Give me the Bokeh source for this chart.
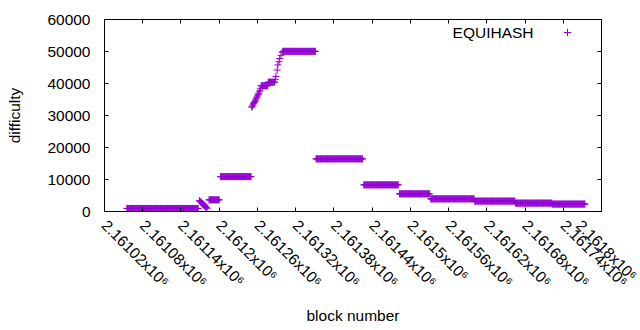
import math
from bokeh.plotting import figure
from bokeh.models import (FixedTicker, LinearAxis, Range1d, Legend, LegendItem,
                          Label, ColumnDataSource, CustomLabelingPolicy)
from bokeh.embed import file_html
from bokeh.resources import INLINE

# ---- data ----
# flat stretches: first block, last block, difficulty
seg_start = [2161055, 2161184, 2161202, 2161266, 2161277, 2161300, 2161352,
             2161427, 2161483, 2161532, 2161601, 2161665, 2161723]
seg_end = [2161167, 2161200, 2161250, 2161276, 2161287, 2161351, 2161425,
           2161481, 2161530, 2161600, 2161664, 2161722, 2161774]
seg_diff = [950, 3650, 10900, 39300, 40400, 50050, 16450,
            8330, 5520, 3950, 3250, 2620, 2320]

# individual blocks in the transitions
drop_blocks = [2161169, 2161170, 2161171, 2161172, 2161173, 2161174, 2161175,
               2161176, 2161177, 2161178, 2161179, 2161180, 2161181]
drop_diff = [3400, 3200, 3000, 2800, 2600, 2400, 2200, 2000, 1800, 1600, 1400,
             1200, 1000]
ramp_blocks = [2161251, 2161252, 2161253, 2161254, 2161255, 2161256, 2161257,
               2161258, 2161259, 2161260, 2161261, 2161262, 2161263, 2161264,
               2161265]
ramp_diff = [32600, 32900, 33300, 33700, 34100, 34400, 34800,
             35200, 35700, 36100, 36500, 36800, 37400, 37900,
             38500]
climb_blocks = [2161288, 2161289, 2161291, 2161292, 2161294, 2161295,
                2161297, 2161299]
climb_diff = [41200, 42200, 44200, 45800, 46800, 47800, 48800, 49800]

x_ticks = [2161020, 2161080, 2161140, 2161200, 2161260, 2161320, 2161380,
           2161440, 2161500, 2161560, 2161620, 2161680, 2161740, 2161800]
x_tick_labels = ["2.16102x10⁶", "2.16108x10⁶", "2.16114x10⁶", "2.1612x10⁶",
                 "2.16126x10⁶", "2.16132x10⁶", "2.16138x10⁶", "2.16144x10⁶",
                 "2.1615x10⁶", "2.16156x10⁶", "2.16162x10⁶", "2.16168x10⁶",
                 "2.16174x10⁶", "2.1618x10⁶"]
y_ticks = [0, 10000, 20000, 30000, 40000, 50000, 60000]
series_name = "EQUIHASH"
x_title = "block number"
y_title = "difficulty"

# ---- build point table ----
xs, ys = [], []
for s, e, d in zip(seg_start, seg_end, seg_diff):
    for b in range(s, e + 1):
        xs.append(b)
        ys.append(d)
for bl, dl in ((drop_blocks, drop_diff), (ramp_blocks, ramp_diff),
               (climb_blocks, climb_diff)):
    xs.extend(bl)
    ys.extend(dl)
src = ColumnDataSource(dict(x=xs, y=ys))

FONT = "Liberation Sans"
FS = "15.5px"
COLOR = "#9400D3"

p = figure(width=640, height=330, output_backend="svg", toolbar_location=None,
           x_range=Range1d(2161020, 2161800), y_range=Range1d(0, 60000),
           min_border_left=104, min_border_right=31, min_border_top=19,
           min_border_bottom=119)
p.xgrid.visible = False
p.ygrid.visible = False
p.outline_line_color = "black"
p.outline_line_width = 1

pts = p.scatter(x="x", y="y", source=src, marker="cross", size=7,
                line_color=COLOR, line_width=1)

no_labels = CustomLabelingPolicy(code="return new Set()")

# axes
xa = p.xaxis[0]
xa.ticker = FixedTicker(ticks=x_ticks)
xa.major_label_overrides = {t: l for t, l in zip(x_ticks, x_tick_labels)}
xa.major_label_orientation = -math.pi / 4
xa.axis_label = x_title
ya = p.yaxis[0]
ya.ticker = FixedTicker(ticks=y_ticks)
ya.axis_label = y_title
for ax in (xa, ya):
    ax.major_tick_in = 4
    ax.major_tick_out = 0
    ax.minor_tick_line_color = None
    ax.axis_line_color = "black"
    ax.major_tick_line_color = "black"
    ax.major_label_text_font = FONT
    ax.major_label_text_font_size = FS
    ax.major_label_text_color = "black"
    ax.axis_label_text_font = FONT
    ax.axis_label_text_font_size = FS
    ax.axis_label_text_font_style = "normal"
    ax.axis_label_text_color = "black"
ya.major_label_standoff = 14
ya.axis_label_standoff = 21
xa.major_label_standoff = 11
xa.axis_label_standoff = 8

# mirrored ticks on the right and top
ra = LinearAxis(ticker=FixedTicker(ticks=y_ticks), major_tick_in=4,
                major_tick_out=0, minor_tick_line_color=None,
                major_label_policy=no_labels, axis_line_color="black")
p.add_layout(ra, "right")
ta = LinearAxis(ticker=FixedTicker(ticks=x_ticks), major_tick_in=4,
                major_tick_out=0, minor_tick_line_color=None,
                major_label_policy=no_labels, axis_line_color="black")
p.add_layout(ta, "above")

# legend: text on the left, sample on the right (gnuplot style)
leg = Legend(items=[LegendItem(label=" ", renderers=[pts])],
             location=(454, 170), glyph_width=18, glyph_height=18,
             label_width=0, label_height=18, label_standoff=0, padding=0,
             margin=0, spacing=0, border_line_color=None,
             background_fill_alpha=0, label_text_font=FONT,
             label_text_font_size=FS)
p.add_layout(leg)
p.add_layout(Label(x=429, y=179, x_units="screen", y_units="screen",
                   text=series_name, text_align="right",
                   text_baseline="middle", text_font=FONT,
                   text_font_size=FS, text_color="black"))

open("out.html", "w").write(file_html(p, INLINE))
